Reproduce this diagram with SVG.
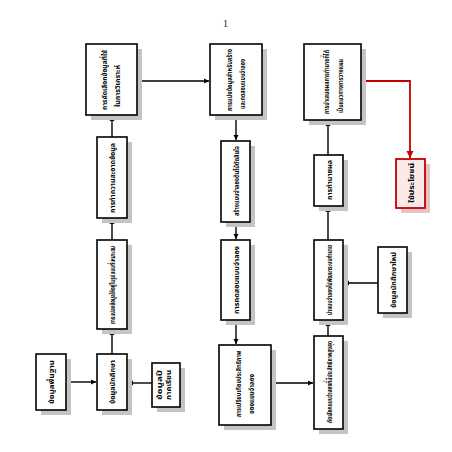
<svg xmlns="http://www.w3.org/2000/svg" width="452" height="452" viewBox="0 0 452 452">
<style>
.box{fill:#ffffff;stroke:#000000;stroke-width:1.6}
.sh{fill:#c4c4c4}
.red{fill:#fbe9e9;stroke:#c00000;stroke-width:1.8}
.rsh{fill:#e6c4c4}
.t{font-family:"Noto Sans Thai","Noto Sans","DejaVu Sans",sans-serif;font-size:7.5px;font-weight:bold;fill:#000000;text-anchor:middle}
.c{fill:none;stroke:#000000;stroke-width:1.4}
.rc{fill:none;stroke:#c00000;stroke-width:1.8}
</style>
<defs>
<marker id="ah" markerWidth="6" markerHeight="6" refX="5" refY="3" orient="auto" markerUnits="userSpaceOnUse"><path d="M0,0.5 L5,3 L0,5.5 Z" fill="#000000"/></marker>
<marker id="rah" markerWidth="8" markerHeight="8" refX="7" refY="4" orient="auto" markerUnits="userSpaceOnUse"><path d="M0,0.5 L7,4 L0,7.5 Z" fill="#c00000"/></marker>
</defs>
<rect width="452" height="452" fill="#ffffff"/>
<text x="225.5" y="27" font-family="'Liberation Serif',serif" font-size="11" fill="#333333" text-anchor="middle">1</text>

<g id="connectors">
<path class="c" d="M66,382 H96" marker-end="url(#ah)"/>
<path class="c" d="M152,383 H128" marker-end="url(#ah)"/>
<path class="c" d="M112,354 V330" marker-end="url(#ah)"/>
<path class="c" d="M112,240 V219" marker-end="url(#ah)"/>
<path class="c" d="M112,137 V116" marker-end="url(#ah)"/>
<path class="c" d="M137,81 H209" marker-end="url(#ah)"/>
<path class="c" d="M236,115 V140" marker-end="url(#ah)"/>
<path class="c" d="M236,222 V239" marker-end="url(#ah)"/>
<path class="c" d="M236,320 V344" marker-end="url(#ah)"/>
<path class="c" d="M271,383 H313" marker-end="url(#ah)"/>
<path class="c" d="M328,336 V321" marker-end="url(#ah)"/>
<path class="c" d="M378,283 H344" marker-end="url(#ah)"/>
<path class="c" d="M328,240 V207" marker-end="url(#ah)"/>
<path class="c" d="M328,155 V121" marker-end="url(#ah)"/>
<path class="rc" d="M361,81 H410 V158" marker-end="url(#rah)"/>
</g>

<g id="nodeA">
<rect class="sh" x="41" y="359" width="30" height="56"/>
<rect class="box" x="36" y="354" width="30" height="56"/>
<g transform="translate(54,382) rotate(-90)"><text class="t" x="0" y="0" textLength="44" lengthAdjust="spacingAndGlyphs">ข้อมูลพื้นฐาน</text></g>
</g>
<g id="nodeB">
<rect class="sh" x="102" y="359" width="30" height="56"/>
<rect class="box" x="97" y="354" width="30" height="56"/>
<g transform="translate(115,382) rotate(-90)"><text class="t" x="0" y="0" textLength="44" lengthAdjust="spacingAndGlyphs">ข้อมูลนักศึกษา</text></g>
</g>
<g id="nodeC">
<rect class="sh" x="157" y="368" width="28" height="44"/>
<rect class="box" x="152" y="363" width="28" height="44"/>
<g transform="translate(166,385) rotate(-90)">
<text class="t" x="0" y="-4" textLength="30" lengthAdjust="spacingAndGlyphs">ข้อมูลปี</text>
<text class="t" x="0" y="5" textLength="30" lengthAdjust="spacingAndGlyphs">ภาคเรียน</text>
</g>
</g>
<g id="nodeD">
<rect class="sh" x="102" y="245" width="30" height="89"/>
<rect class="box" x="97" y="240" width="30" height="89"/>
<g transform="translate(115,285) rotate(-90)"><text class="t" x="0" y="0" textLength="78" lengthAdjust="spacingAndGlyphs">การแปลงข้อมูลให้อยู่ในรูปแบบที่เหมาะสม</text></g>
</g>
<g id="nodeE">
<rect class="sh" x="102" y="142" width="30" height="81"/>
<rect class="box" x="97" y="137" width="30" height="81"/>
<g transform="translate(115,178) rotate(-90)"><text class="t" x="0" y="0" textLength="70" lengthAdjust="spacingAndGlyphs">การทำความสะอาดข้อมูล</text></g>
</g>
<g id="nodeF">
<rect class="sh" x="91" y="49" width="51" height="71"/>
<rect class="box" x="86" y="44" width="51" height="71"/>
<g transform="translate(111,80) rotate(-90)">
<text class="t" x="0" y="-4" textLength="60" lengthAdjust="spacingAndGlyphs">การคัดเลือกข้อมูลที่ใช้</text>
<text class="t" x="-6" y="9" textLength="42" lengthAdjust="spacingAndGlyphs">ในการวิเคราะห์</text>
</g>
</g>
<g id="nodeG">
<rect class="sh" x="215" y="49" width="52" height="71"/>
<rect class="box" x="210" y="44" width="52" height="71"/>
<g transform="translate(236,80) rotate(-90)">
<text class="t" x="0" y="-4" textLength="62" lengthAdjust="spacingAndGlyphs">การแบ่งข้อมูลสำหรับสร้าง</text>
<text class="t" x="-4" y="9" textLength="50" lengthAdjust="spacingAndGlyphs">และทดสอบแบบจำลอง</text>
</g>
</g>
<g id="nodeH">
<rect class="sh" x="226" y="146" width="29" height="81"/>
<rect class="box" x="221" y="141" width="29" height="81"/>
<g transform="translate(238.5,181) rotate(-90)"><text class="t" x="0" y="0" textLength="70" lengthAdjust="spacingAndGlyphs">สร้างแบบจำลองต้นไม้ตัดสินใจ</text></g>
</g>
<g id="nodeI">
<rect class="sh" x="226" y="245" width="29" height="80"/>
<rect class="box" x="221" y="240" width="29" height="80"/>
<g transform="translate(238.5,280) rotate(-90)"><text class="t" x="0" y="0" textLength="68" lengthAdjust="spacingAndGlyphs">การทดสอบแบบจำลอง</text></g>
</g>
<g id="nodeJ">
<rect class="sh" x="224" y="350" width="52" height="80"/>
<rect class="box" x="219" y="345" width="52" height="80"/>
<g transform="translate(245,384) rotate(-90)">
<text class="t" x="0" y="-4" textLength="66" lengthAdjust="spacingAndGlyphs">การเปรียบเทียบประสิทธิภาพ</text>
<text class="t" x="-10" y="9" textLength="40" lengthAdjust="spacingAndGlyphs">ของแบบจำลอง</text>
</g>
</g>
<g id="nodeK">
<rect class="sh" x="319" y="341" width="29" height="93"/>
<rect class="box" x="314" y="336" width="29" height="93"/>
<g transform="translate(331.5,382) rotate(-90)"><text class="t" x="0" y="0" textLength="82" lengthAdjust="spacingAndGlyphs">คัดเลือกแบบจำลองที่มีประสิทธิภาพสูงสุด</text></g>
</g>
<g id="nodeL">
<rect class="sh" x="319" y="245" width="29" height="80"/>
<rect class="box" x="314" y="240" width="29" height="80"/>
<g transform="translate(331.5,280) rotate(-90)"><text class="t" x="0" y="0" textLength="70" lengthAdjust="spacingAndGlyphs">นำแบบจำลองไปพัฒนาระบบทำนาย</text></g>
</g>
<g id="nodeM">
<rect class="sh" x="383" y="252" width="29" height="66"/>
<rect class="box" x="378" y="247" width="29" height="66"/>
<g transform="translate(395.5,280) rotate(-90)"><text class="t" x="0" y="0" textLength="56" lengthAdjust="spacingAndGlyphs">ข้อมูลนักศึกษาใหม่</text></g>
</g>
<g id="nodeN">
<rect class="sh" x="319" y="160" width="29" height="51"/>
<rect class="box" x="314" y="155" width="29" height="51"/>
<g transform="translate(331.5,180) rotate(-90)"><text class="t" x="0" y="0" textLength="40" lengthAdjust="spacingAndGlyphs">การทำนายผล</text></g>
</g>
<g id="nodeO">
<rect class="sh" x="309" y="49" width="57" height="76"/>
<rect class="box" x="304" y="44" width="57" height="76"/>
<g transform="translate(332.5,82) rotate(-90)">
<text class="t" x="0" y="-4" textLength="64" lengthAdjust="spacingAndGlyphs">การนำเสนอผลการทำนายที่ได้</text>
<text class="t" x="-4" y="10" textLength="54" lengthAdjust="spacingAndGlyphs">เป็นแนวทางการวางแผน</text>
</g>
</g>
<g id="nodeP">
<rect class="rsh" x="401" y="164" width="29" height="49"/>
<rect class="red" x="396" y="159" width="29" height="49"/>
<g transform="translate(413.5,183) rotate(-90)"><text class="t" x="0" y="0" textLength="40" lengthAdjust="spacingAndGlyphs">ใช้ประโยชน์</text></g>
</g>
</svg>
